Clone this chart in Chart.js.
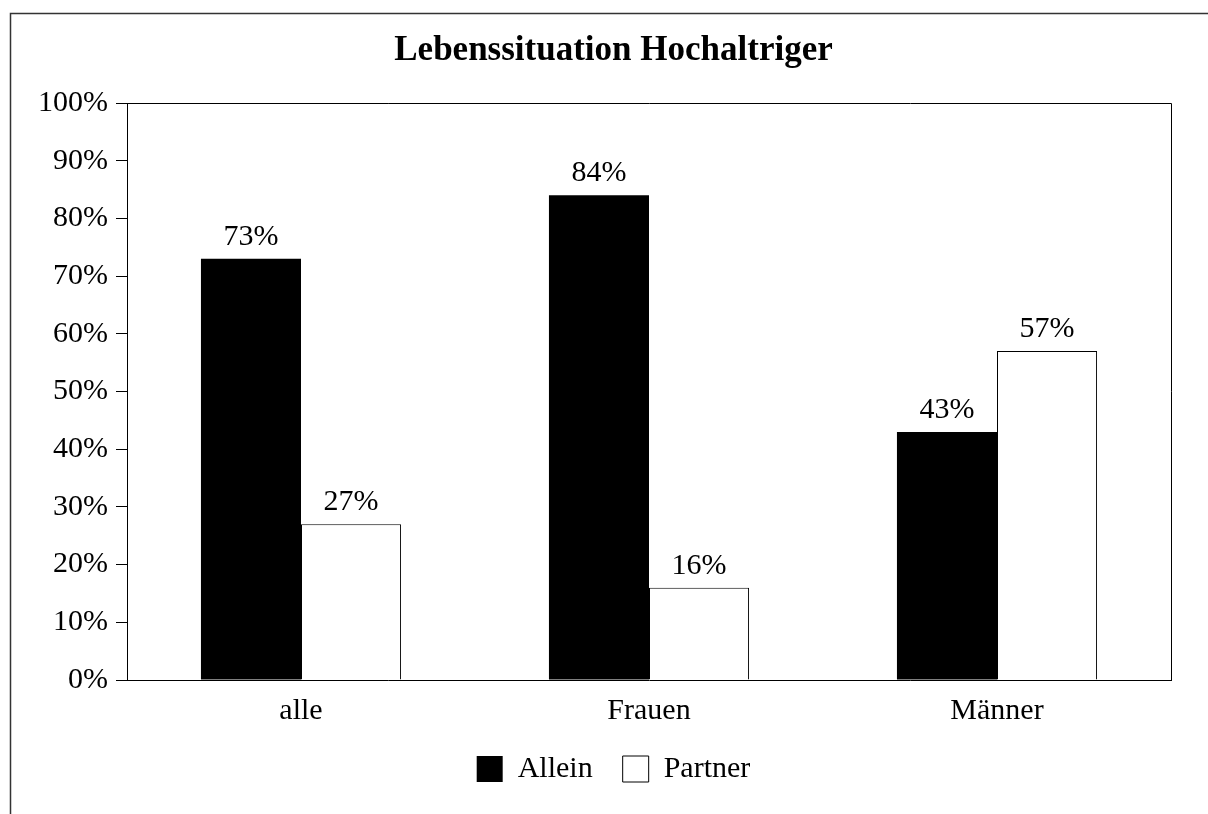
<!DOCTYPE html>
<html>
<head>
<meta charset="utf-8">
<script src="https://cdn.jsdelivr.net/npm/chart.js@4/dist/chart.umd.min.js"></script>
<style>
    html, body { margin: 0; padding: 0; background: #fff; }
    #wrap { width: 1208px; height: 814px; }
</style>
</head>
<body>
<div id="wrap"><canvas id="chart-main"></canvas></div>
<script>
// Daten
const categories = ['alle', 'Frauen', 'Männer'];
const allein = [73, 84, 43];
const partner = [27, 16, 57];
const yTicks = [0, 10, 20, 30, 40, 50, 60, 70, 80, 90, 100];

const serif = "'Liberation Serif', 'Times New Roman', serif";

// Titel und Legende etwas nach rechts, wie im Original
const shiftBoxes = {
    id: 'shiftBoxes',
    afterLayout(chart) {
        [chart.titleBlock, chart.legend].forEach(b => {
            if (!b) return;
            b.left += 28;
            b.right += 28;
        });
    }
};

// Rahmen um das ganze Diagramm und um die Zeichenfläche
const framePlugin = {
    id: 'frame',
    afterDraw(chart) {
        const ctx = chart.ctx;
        const a = chart.chartArea;
        ctx.save();
        ctx.strokeStyle = '#333';
        ctx.lineWidth = 1.5;
        ctx.beginPath();
        ctx.moveTo(10.5, 814);
        ctx.lineTo(10.5, 13.5);
        ctx.lineTo(1208, 13.5);
        ctx.stroke();

        ctx.strokeStyle = '#000';
        ctx.lineWidth = 1;
        ctx.beginPath();
        ctx.moveTo(a.left, Math.round(a.top) + 0.5);
        ctx.lineTo(Math.round(a.right) + 0.5, Math.round(a.top) + 0.5);
        ctx.lineTo(Math.round(a.right) + 0.5, a.bottom);
        ctx.stroke();
        ctx.restore();
    }
};

// Werte über den Balken
const valueLabels = {
    id: 'valueLabels',
    afterDatasetsDraw(chart) {
        const ctx = chart.ctx;
        ctx.save();
        ctx.font = '30px ' + serif;
        ctx.fillStyle = '#000';
        ctx.textAlign = 'center';
        ctx.textBaseline = 'alphabetic';
        chart.data.datasets.forEach((ds, di) => {
            chart.getDatasetMeta(di).data.forEach((bar, i) => {
                ctx.fillText(ds.data[i] + '%', bar.x, bar.y - 14);
            });
        });
        ctx.restore();
    }
};

new Chart(document.getElementById('chart-main').getContext('2d'), {
    type: 'bar',
    data: {
        labels: categories,
        datasets: [
            {
                label: 'Allein',
                data: allein,
                backgroundColor: '#000',
                borderColor: '#000',
                borderWidth: 0,
                categoryPercentage: 0.575,
                barPercentage: 1.0
            },
            {
                label: 'Partner',
                data: partner,
                backgroundColor: '#fff',
                borderColor: '#000',
                borderWidth: 1,
                borderSkipped: 'bottom',
                categoryPercentage: 0.575,
                barPercentage: 1.0
            }
        ]
    },
    options: {
        responsive: true,
        maintainAspectRatio: false,
        animation: false,
        layout: { padding: { left: 0, right: 37, top: 0, bottom: 20 } },
        scales: {
            y: {
                min: 0,
                max: 100,
                afterBuildTicks: (s) => { s.ticks = yTicks.map(v => ({ value: v })); },
                afterFit: (s) => { s.width = 127; },
                ticks: {
                    color: '#000',
                    padding: 8,
                    font: { family: serif, size: 30 },
                    callback: (v) => v + '%'
                },
                grid: { display: true, drawOnChartArea: false, drawTicks: true, tickLength: 11, color: '#000' },
                border: { display: true, color: '#000', width: 1 }
            },
            x: {
                afterFit: (s) => { s.height = 44; },
                ticks: {
                    color: '#000',
                    padding: 13,
                    font: { family: serif, size: 30 }
                },
                grid: { display: false, drawTicks: false },
                border: { display: true, color: '#000', width: 1 }
            }
        },
        plugins: {
            title: {
                display: true,
                text: 'Lebenssituation Hochaltriger',
                color: '#000',
                font: { family: serif, size: 35, weight: 'bold' },
                padding: { top: 30, bottom: 31 }
            },
            legend: {
                position: 'bottom',
                labels: {
                    color: '#000',
                    boxWidth: 26,
                    boxHeight: 26,
                    padding: 30,
                    font: { family: serif, size: 30 }
                }
            },
            tooltip: { enabled: false }
        }
    },
    plugins: [shiftBoxes, framePlugin, valueLabels]
});
</script>
</body>
</html>
